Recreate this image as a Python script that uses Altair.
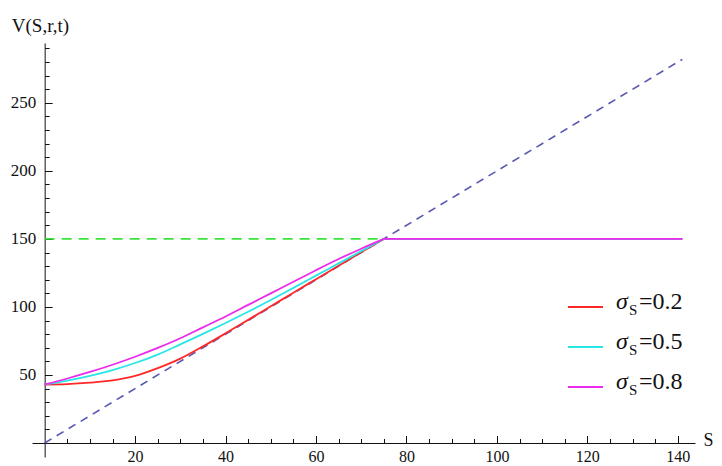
import altair as alt
import pandas as pd

# ---------------- data ----------------
S_GRID = [0, 5, 10, 15, 20, 25, 30, 35, 40, 45, 50, 55, 60, 65, 70, 75]
V_SIG02 = [43.0, 43.3, 44.3, 46.0, 49.3, 55.0, 62.0, 71.0, 80.6, 90.5, 100.5, 110.5, 120.4, 130.3, 140.2, 150.0]
V_SIG05 = [43.0, 45.8, 49.3, 53.6, 58.8, 65.0, 72.5, 80.2, 88.2, 96.5, 105.1, 114.0, 123.0, 132.0, 141.0, 150.0]
V_SIG08 = [43.0, 47.4, 52.2, 57.5, 63.4, 69.9, 77.0, 85.0, 93.0, 101.5, 110.0, 118.5, 127.0, 135.2, 142.8, 150.0]
SIGMA_LABELS = ["0.2", "0.5", "0.8"]
SERIES_COLORS = ["#FF2828", "#28E6E6", "#EC2AEC"]

# beyond S = 75 every curve stays at the cap
FLAT_S = [75, 141]
FLAT_V = [150, 150]

PAYOFF_S = [0, 141]
PAYOFF_V = [0, 282]
CAP_S = [0, 75]
CAP_V = [150, 150]

X_MAJOR = [20, 40, 60, 80, 100, 120, 140]
X_MINOR = [5, 10, 15, 20, 25, 30, 35, 40, 45, 50, 55, 60, 65, 70, 75, 80, 85, 90,
           95, 100, 105, 110, 115, 120, 125, 130, 135, 140]
Y_MAJOR = [50, 100, 150, 200, 250]
Y_MINOR = [10, 20, 30, 40, 50, 60, 70, 80, 90, 100, 110, 120, 130, 140, 150, 160,
           170, 180, 190, 200, 210, 220, 230, 240, 250, 260, 270, 280, 290]

X_DOMAIN = [-2.8, 143.8]
Y_DOMAIN = [-10.3, 294.0]

# ---------------- layout ----------------
W, H = 663, 414
X0_PX = W * (0 - X_DOMAIN[0]) / (X_DOMAIN[1] - X_DOMAIN[0])     # y-axis position
Y0_PX = H * (Y_DOMAIN[1] - 0) / (Y_DOMAIN[1] - Y_DOMAIN[0])     # x-axis position
FONT = "Liberation Serif"
INK = "#111111"

rows = []
flat_rows = []
for lab, vals in zip(SIGMA_LABELS, [V_SIG02, V_SIG05, V_SIG08]):
    for s, v in zip(S_GRID, vals):
        rows.append({"S": s, "V": v, "sigma": lab})
    for s, v in zip(FLAT_S, FLAT_V):
        flat_rows.append({"S": s, "V": v, "sigma": lab})
curves_df = pd.DataFrame(rows)
flat_df = pd.DataFrame(flat_rows)
payoff_df = pd.DataFrame({"S": PAYOFF_S, "V": PAYOFF_V})
cap_df = pd.DataFrame({"S": CAP_S, "V": CAP_V})
legend_df = pd.DataFrame({"sigma": SIGMA_LABELS, "idx": [0, 1, 2]})

xs = alt.Scale(domain=X_DOMAIN, nice=False, zero=False)
ys = alt.Scale(domain=Y_DOMAIN, nice=False, zero=False)
color_scale = alt.Scale(domain=SIGMA_LABELS, range=SERIES_COLORS)

x_label_axis = alt.Axis(
    orient="bottom", offset=-(H - Y0_PX), values=X_MAJOR, ticks=False, tickSize=0,
    domain=False, grid=False, labelFont=FONT, labelFontSize=16, labelColor=INK,
    labelPadding=6, labelFlush=False, labelOverlap=False,
    title="S", titleFont=FONT, titleFontSize=18, titleFontWeight="normal",
    titleColor=INK, titleX=676, titleY=3, titleAlign="center", titleBaseline="alphabetic",
)
y_label_axis = alt.Axis(
    orient="left", offset=-X0_PX, values=Y_MAJOR, ticks=False, tickSize=0,
    domain=False, grid=False, labelFont=FONT, labelFontSize=17, labelColor=INK,
    labelPadding=9, labelFlush=False, labelOverlap=False,
    title="V(S,r,t)", titleFont=FONT, titleFontSize=19, titleFontWeight="normal",
    titleColor=INK, titleAngle=0, titleX=-4.7, titleY=-12, titleAlign="center",
    titleBaseline="alphabetic",
)


def tick_axes(xvals, yvals, size, show_domain):
    xa = alt.Axis(orient="top", offset=-Y0_PX, values=xvals, labels=False, ticks=True,
                  tickSize=size, tickColor="#111111", tickWidth=1, domain=show_domain,
                  domainColor="#111111", domainWidth=1, grid=False, title=None)
    ya = alt.Axis(orient="right", offset=-(W - X0_PX), values=yvals, labels=False, ticks=True,
                  tickSize=size, tickColor="#111111", tickWidth=1, domain=show_domain,
                  domainColor="#111111", domainWidth=1, grid=False, title=None)
    return xa, ya


payoff = alt.Chart(payoff_df).mark_line(
    color="#5858B2", strokeWidth=1.6, strokeDash=[8, 6]
).encode(
    x=alt.X("S:Q", scale=xs, axis=x_label_axis),
    y=alt.Y("V:Q", scale=ys, axis=y_label_axis),
)

cap = alt.Chart(cap_df).mark_line(
    color="#3CE23C", strokeWidth=1.8, strokeDash=[10, 7]
).encode(
    x=alt.X("S:Q", scale=xs, axis=None),
    y=alt.Y("V:Q", scale=ys, axis=None),
)

curves = alt.Chart(curves_df).mark_line(strokeWidth=1.8, interpolate="monotone").encode(
    x=alt.X("S:Q", scale=xs, axis=None),
    y=alt.Y("V:Q", scale=ys, axis=None),
    color=alt.Color("sigma:N", scale=color_scale, legend=None),
    detail="sigma:N",
)

flat = alt.Chart(flat_df).mark_line(strokeWidth=1.8).encode(
    x=alt.X("S:Q", scale=xs, axis=None),
    y=alt.Y("V:Q", scale=ys, axis=None),
    color=alt.Color("sigma:N", scale=color_scale, legend=None),
    detail="sigma:N",
)

mx, my = tick_axes(X_MAJOR, Y_MAJOR, 7.5, True)
major = alt.Chart(payoff_df).mark_point(opacity=0).encode(
    x=alt.X("S:Q", scale=xs, axis=mx),
    y=alt.Y("V:Q", scale=ys, axis=my),
)
nx, ny = tick_axes(X_MINOR, Y_MINOR, 4.5, False)
minor = alt.Chart(payoff_df).mark_point(opacity=0).encode(
    x=alt.X("S:Q", scale=xs, axis=nx),
    y=alt.Y("V:Q", scale=ys, axis=ny),
)

# ---------------- legend built from the series list ----------------
LEG_Y0, LEG_DY = 264, 40
leg_base = alt.Chart(legend_df).transform_calculate(
    ly=f"{LEG_Y0} + datum.idx * {LEG_DY}",
    ty=f"{LEG_Y0 + 2} + datum.idx * {LEG_DY}",
    sy=f"{LEG_Y0 + 8} + datum.idx * {LEG_DY}",
    txt="'=' + datum.sigma",
)
leg_lines = leg_base.mark_rule(strokeWidth=1.8).encode(
    x=alt.value(536), x2=alt.value(571),
    y=alt.Y("ly:Q", scale=None, axis=None),
    color=alt.Color("sigma:N", scale=color_scale, legend=None),
)
leg_sigma = leg_base.mark_text(
    text="σ", font=FONT, fontSize=24, fontStyle="italic", align="left",
    baseline="alphabetic", color=INK,
).encode(x=alt.value(584), y=alt.Y("ty:Q", scale=None, axis=None))
leg_sub = leg_base.mark_text(
    text="S", font=FONT, fontSize=15, align="left", baseline="alphabetic", color=INK,
).encode(x=alt.value(597), y=alt.Y("sy:Q", scale=None, axis=None))
leg_val = leg_base.mark_text(
    font=FONT, fontSize=24, align="left", baseline="alphabetic", color=INK,
).encode(
    x=alt.value(607), y=alt.Y("ty:Q", scale=None, axis=None), text="txt:N",
)

chart = alt.layer(
    payoff, cap, curves, flat, major, minor, leg_lines, leg_sigma, leg_sub, leg_val
).resolve_axis(
    x="independent", y="independent"
).properties(
    width=W, height=H,
    autosize=alt.AutoSizeParams(type="none"),
    padding={"left": 24, "top": 35, "right": 19, "bottom": 9},
    background="white",
).configure_view(stroke=None)

chart.save("out.html", embed_options={"renderer": "svg", "actions": False})
